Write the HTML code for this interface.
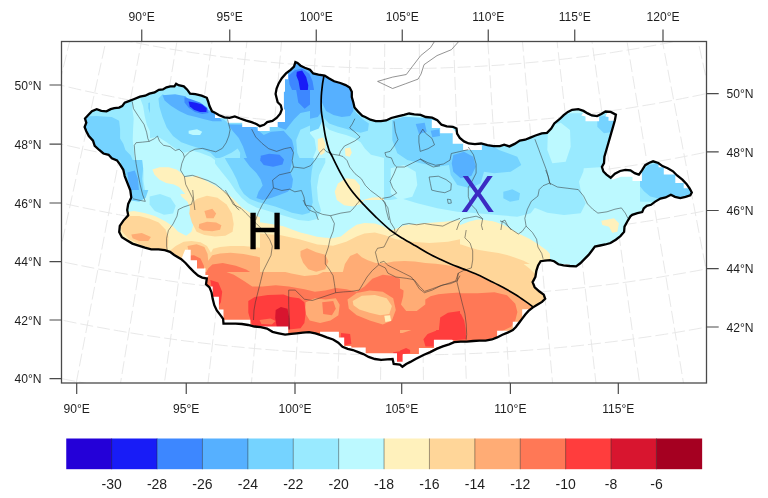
<!DOCTYPE html>
<html lang="en"><head><meta charset="utf-8"><title>Mongolia temperature map</title>
<style>html,body{margin:0;padding:0;background:#fff;}body{width:768px;height:498px;overflow:hidden;}svg{display:block;will-change:transform;}text{font-family:"Liberation Sans", Arial, Helvetica, sans-serif;fill:#1e1e1e;}.tk{font-size:12.1px;}.cb{font-size:14px;}</style></head><body>
<svg width="768" height="498" viewBox="0 0 768 498">
<rect x="0" y="0" width="768" height="498" fill="#ffffff"/>
<defs><clipPath id="fr"><rect x="61.5" y="41.5" width="645" height="341.5"/></clipPath>
<clipPath id="mn"><path d="M124.7 176.1L123.3 169.8L120.1 164.6L117.0 160.4L111.8 158.3L108.6 154.8L103.4 153.5L99.2 150.0L94.7 145.8L93.0 140.6L88.8 136.0L86.3 131.2L84.6 127.0L86.3 122.8L85.0 118.6L87.8 115.5L91.9 111.3L96.7 109.2L101.3 110.9L106.5 111.3L110.7 109.2L114.3 108.2L119.1 107.6L122.2 106.1L124.7 102.6L129.5 100.9L133.7 99.2L140.0 96.7L145.2 95.7L149.4 93.6L154.6 92.5L158.8 89.8L162.9 89.4L166.5 87.3L170.3 86.3L174.4 86.3L176.1 83.8L178.6 85.2L183.8 86.3L187.0 89.4L190.1 93.6L195.3 94.2L201.6 95.7L206.8 97.8L208.3 101.9L209.5 106.1L212.0 111.3L215.0 112.7L219.2 115.2L224.4 117.3L229.6 117.9L234.8 116.4L240.1 118.5L246.3 120.6L251.6 122.1L256.8 124.2L259.9 126.2L264.1 124.8L267.2 122.1L272.4 121.0L276.6 117.9L280.2 113.7L281.8 109.5L280.8 105.3L277.7 102.2L276.6 98.0L275.6 93.9L276.6 88.6L278.7 83.4L281.8 78.2L286.0 73.4L290.6 69.8L294.0 66.7L295.4 62.1L297.5 63.0L300.6 65.7L304.8 67.8L310.0 69.8L313.2 73.4L318.4 74.7L324.7 75.5L328.8 78.2L334.1 81.3L340.3 83.0L345.6 85.1L349.7 87.6L351.8 91.8L351.8 97.0L353.3 102.2L354.5 107.4L358.1 111.6L362.3 115.8L365.2 117.0L370.4 119.7L375.7 121.2L380.9 121.2L386.1 120.5L391.3 118.0L397.6 116.4L403.9 114.9L409.1 113.5L414.3 114.3L420.6 114.9L425.8 117.0L432.1 117.6L437.3 120.1L441.5 124.7L446.7 126.4L452.9 126.8L456.5 128.5L457.1 133.7L459.8 137.9L464.0 141.4L468.6 143.5L474.9 144.2L481.1 143.5L487.4 145.2L493.7 146.2L499.9 146.2L504.2 144.7L509.4 146.4L514.6 143.9L519.8 140.6L525.1 139.7L530.3 137.6L535.5 135.5L541.8 133.4L547.0 132.8L551.2 128.6L554.3 123.4L559.5 119.2L563.7 115.1L567.9 111.9L572.1 109.8L578.3 109.2L583.5 110.9L587.7 113.4L591.9 115.5L597.1 116.1L601.3 114.0L605.5 111.5L610.7 111.9L615.9 114.7L614.9 120.3L612.8 127.6L610.7 134.9L608.6 142.2L606.5 149.5L604.4 156.8L604.0 163.1L601.9 166.9L603.4 171.5L606.5 174.6L610.7 177.7L614.9 173.6L620.1 171.0L625.3 169.8L630.5 170.4L634.7 173.1L638.9 174.6L642.0 170.4L645.2 165.2L649.4 162.7L653.1 161.3L658.3 163.0L662.5 166.1L667.7 168.2L673.0 171.3L677.1 175.5L682.4 179.7L686.5 183.9L689.7 188.5L691.8 192.6L690.3 195.3L685.5 196.8L680.3 198.1L675.0 196.8L670.9 194.7L665.6 197.4L660.4 198.5L655.2 201.6L651.0 204.8L646.8 205.8L643.7 208.5L642.2 212.1L637.4 213.1L632.2 214.8L630.4 216.3L627.3 221.5L624.5 226.7L624.1 231.9L620.4 236.1L615.8 239.7L610.5 243.0L605.3 244.5L600.1 245.5L594.9 246.6L591.8 250.7L588.6 254.9L584.4 259.1L580.3 263.3L576.1 266.4L569.8 266.0L563.5 265.4L558.3 264.3L554.1 261.2L550.0 260.1L544.8 260.6L540.6 261.2L538.1 265.4L536.4 270.6L535.4 276.8L532.6 282.1L534.7 287.3L539.5 291.5L543.7 294.6L545.2 298.8L545.2 298.8L542.0 301.9L536.8 305.1L532.6 307.6L528.5 310.9L525.3 314.5L522.2 318.6L519.1 322.8L515.9 327.0L512.8 330.1L507.6 332.6L502.4 334.7L497.1 337.4L491.9 339.5L485.6 340.6L479.4 340.6L473.1 341.0L466.8 341.6L460.6 341.6L454.3 342.2L449.1 344.3L442.8 346.4L436.6 348.9L430.3 352.1L424.0 354.8L415.6 359.0L410.4 361.9L406.2 364.0L402.4 366.7L399.9 364.6L393.7 364.0L392.6 359.0L387.4 359.4L381.1 359.8L374.9 359.0L368.6 356.9L363.4 354.1L358.2 352.1L352.9 350.0L347.7 348.9L342.5 346.8L338.3 342.7L333.1 339.5L326.8 337.4L321.6 335.4L315.4 333.3L309.1 332.2L302.8 332.6L296.6 333.3L291.3 333.9L285.1 334.7L278.8 333.3L272.5 331.8L267.0 328.6L260.7 327.1L254.4 326.5L248.2 325.0L241.9 324.0L235.6 323.6L229.4 323.6L223.5 323.6L223.1 318.8L220.0 314.6L216.8 310.4L214.3 305.2L212.7 298.9L211.6 292.7L209.5 287.4L206.0 284.3L206.8 278.5L202.2 277.6L198.0 275.5L193.9 271.8L189.7 267.6L185.5 263.0L181.3 259.2L174.2 255.0L170.0 251.9L164.8 250.2L158.5 249.4L151.2 249.4L144.9 247.7L138.6 245.6L132.4 243.6L127.2 240.4L121.9 237.3L119.2 232.1L119.8 225.8L123.4 220.6L128.2 215.3L127.2 210.1L128.2 203.9L131.3 197.6L130.3 190.3Z"/></clipPath>
<clipPath id="c0"><rect x="70" y="56" width="160" height="104"/></clipPath>
<clipPath id="c1"><rect x="230" y="56" width="160" height="104"/></clipPath>
<clipPath id="c2"><rect x="390" y="56" width="160" height="104"/></clipPath>
<clipPath id="c3"><rect x="550" y="56" width="160" height="104"/></clipPath>
<clipPath id="c4"><rect x="70" y="160" width="160" height="104"/></clipPath>
<clipPath id="c5"><rect x="230" y="160" width="160" height="104"/></clipPath>
<clipPath id="c6"><rect x="390" y="160" width="160" height="104"/></clipPath>
<clipPath id="c7"><rect x="550" y="160" width="160" height="104"/></clipPath>
<clipPath id="c8"><rect x="230" y="264" width="160" height="104"/></clipPath>
<clipPath id="c9"><rect x="390" y="264" width="160" height="104"/></clipPath>
<clipPath id="c10"><rect x="150" y="264" width="80" height="80"/></clipPath>
<clipPath id="c11"><rect x="100" y="190" width="200" height="130"/></clipPath>
<clipPath id="c12"><rect x="150" y="90" width="160" height="104"/></clipPath>
<clipPath id="c13"><rect x="260" y="200" width="200" height="130"/></clipPath>
<clipPath id="c14"><rect x="310" y="90" width="150" height="104"/></clipPath>
<clipPath id="c15"><rect x="215" y="158" width="145" height="96"/></clipPath>
<clipPath id="c16"><rect x="200" y="272" width="200" height="108"/></clipPath>
<clipPath id="c17"><rect x="384" y="100" width="256" height="166"/></clipPath>
</defs>
<g clip-path="url(#fr)">
<path d="M54.1 -36.3L-58.3 378.7M86.6 -27.9L-15.4 389.8M119.3 -20.4L27.8 399.8M152.1 -13.7L71.3 408.7M185.1 -7.8L115.0 416.4M218.2 -2.8L158.8 423.1M251.5 1.5L202.8 428.7M284.8 4.8L247.0 433.2M318.3 7.4L291.2 436.5M351.7 9.0L335.5 438.7M385.2 9.9L379.8 439.9M418.8 9.9L424.2 439.9M452.3 9.0L468.5 438.7M485.7 7.4L512.8 436.5M519.2 4.8L557.0 433.2M552.5 1.5L601.2 428.7M585.8 -2.8L645.2 423.1M618.9 -7.8L689.0 416.4M651.9 -13.7L732.7 408.7M684.7 -20.4L776.2 399.8M717.4 -27.9L819.4 389.8M749.9 -36.3L862.3 378.7M-28.2 0.2L-19.9 2.9L-11.6 5.5L-3.2 8.1L5.2 10.6L13.6 13.1L22.0 15.5L30.4 17.9L38.8 20.2L47.3 22.4L55.8 24.6L64.2 26.8L72.7 28.9L81.2 30.9L89.7 32.9L98.3 34.9L106.8 36.8L115.4 38.6L123.9 40.4L132.5 42.1L141.1 43.8L149.7 45.4L158.3 46.9L166.9 48.5L175.6 49.9L184.2 51.3L192.8 52.7L201.5 53.9L210.2 55.2L218.8 56.4L227.5 57.5L236.2 58.6L244.9 59.6L253.6 60.5L262.3 61.5L271.0 62.3L279.7 63.1L288.4 63.8L297.1 64.5L305.8 65.2L314.6 65.7L323.3 66.3L332.0 66.7L340.8 67.1L349.5 67.5L358.3 67.8L367.0 68.1L375.8 68.3L384.5 68.4L393.3 68.5L402.0 68.5L410.7 68.5L419.5 68.4L428.2 68.3L437.0 68.1L445.7 67.8L454.5 67.5L463.2 67.1L472.0 66.7L480.7 66.3L489.4 65.7L498.2 65.2L506.9 64.5L515.6 63.8L524.3 63.1L533.0 62.3L541.7 61.5L550.4 60.5L559.1 59.6L567.8 58.6L576.5 57.5L585.2 56.4L593.8 55.2L602.5 53.9L611.2 52.7L619.8 51.3L628.4 49.9L637.1 48.5L645.7 46.9L654.3 45.4L662.9 43.8L671.5 42.1L680.1 40.4L688.6 38.6L697.2 36.8L705.7 34.9L714.3 32.9L722.8 30.9L731.3 28.9L739.8 26.8L748.2 24.6L756.7 22.4L765.2 20.2L773.6 17.9L782.0 15.5L790.4 13.1L798.8 10.6L807.2 8.1L815.6 5.5L823.9 2.9L832.2 0.2M-46.0 54.8L-37.4 57.6L-28.7 60.4L-20.0 63.1L-11.3 65.7L-2.5 68.3L6.2 70.8L15.0 73.3L23.8 75.7L32.6 78.0L41.4 80.3L50.2 82.6L59.1 84.8L67.9 86.9L76.8 89.0L85.7 91.0L94.6 92.9L103.5 94.9L112.4 96.7L121.4 98.5L130.3 100.2L139.3 101.9L148.2 103.6L157.2 105.1L166.2 106.6L175.2 108.1L184.2 109.5L193.2 110.8L202.2 112.1L211.2 113.4L220.3 114.5L229.3 115.7L238.4 116.7L247.4 117.7L256.5 118.7L265.5 119.5L274.6 120.4L283.7 121.2L292.8 121.9L301.9 122.5L311.0 123.1L320.0 123.7L329.1 124.2L338.2 124.6L347.3 125.0L356.5 125.3L365.6 125.5L374.7 125.7L383.8 125.9L392.9 126.0L402.0 126.0L411.1 126.0L420.2 125.9L429.3 125.7L438.4 125.5L447.5 125.3L456.7 125.0L465.8 124.6L474.9 124.2L484.0 123.7L493.0 123.1L502.1 122.5L511.2 121.9L520.3 121.2L529.4 120.4L538.5 119.5L547.5 118.7L556.6 117.7L565.6 116.7L574.7 115.7L583.7 114.5L592.8 113.4L601.8 112.1L610.8 110.8L619.8 109.5L628.8 108.1L637.8 106.6L646.8 105.1L655.8 103.6L664.7 101.9L673.7 100.2L682.6 98.5L691.6 96.7L700.5 94.9L709.4 92.9L718.3 91.0L727.2 89.0L736.1 86.9L744.9 84.8L753.8 82.6L762.6 80.3L771.4 78.0L780.2 75.7L789.0 73.3L797.8 70.8L806.5 68.3L815.3 65.7L824.0 63.1L832.7 60.4L841.4 57.6L850.0 54.8M-63.8 109.3L-54.8 112.2L-45.7 115.1L-36.7 117.9L-27.6 120.6L-18.5 123.3L-9.4 125.9L-0.3 128.5L8.8 131.0L18.0 133.4L27.1 135.8L36.3 138.1L45.5 140.4L54.7 142.6L63.9 144.8L73.2 146.9L82.4 148.9L91.7 150.9L101.0 152.8L110.2 154.7L119.5 156.5L128.8 158.3L138.2 160.0L147.5 161.6L156.8 163.2L166.2 164.7L175.5 166.1L184.9 167.5L194.3 168.9L203.7 170.2L213.1 171.4L222.5 172.5L231.9 173.6L241.3 174.7L250.7 175.7L260.1 176.6L269.6 177.5L279.0 178.3L288.4 179.0L297.9 179.7L307.3 180.3L316.8 180.9L326.3 181.4L335.7 181.8L345.2 182.2L354.6 182.6L364.1 182.8L373.6 183.0L383.1 183.2L392.5 183.3L402.0 183.3L411.5 183.3L420.9 183.2L430.4 183.0L439.9 182.8L449.4 182.6L458.8 182.2L468.3 181.8L477.7 181.4L487.2 180.9L496.7 180.3L506.1 179.7L515.6 179.0L525.0 178.3L534.4 177.5L543.9 176.6L553.3 175.7L562.7 174.7L572.1 173.6L581.5 172.5L590.9 171.4L600.3 170.2L609.7 168.9L619.1 167.5L628.5 166.1L637.8 164.7L647.2 163.2L656.5 161.6L665.8 160.0L675.2 158.3L684.5 156.5L693.8 154.7L703.0 152.8L712.3 150.9L721.6 148.9L730.8 146.9L740.1 144.8L749.3 142.6L758.5 140.4L767.7 138.1L776.9 135.8L786.0 133.4L795.2 131.0L804.3 128.5L813.4 125.9L822.5 123.3L831.6 120.6L840.7 117.9L849.7 115.1L858.8 112.2L867.8 109.3M-81.5 163.8L-72.2 166.8L-62.8 169.8L-53.4 172.7L-44.0 175.5L-34.6 178.3L-25.1 181.0L-15.7 183.7L-6.2 186.3L3.3 188.8L12.8 191.3L22.4 193.7L31.9 196.1L41.5 198.4L51.0 200.6L60.6 202.8L70.2 204.9L79.9 207.0L89.5 209.0L99.1 210.9L108.8 212.8L118.4 214.6L128.1 216.4L137.8 218.1L147.5 219.7L157.2 221.3L166.9 222.8L176.6 224.2L186.4 225.6L196.1 227.0L205.9 228.2L215.6 229.4L225.4 230.6L235.2 231.7L244.9 232.7L254.7 233.6L264.5 234.5L274.3 235.4L284.1 236.1L293.9 236.9L303.7 237.5L313.6 238.1L323.4 238.6L333.2 239.1L343.0 239.5L352.8 239.8L362.7 240.1L372.5 240.3L382.3 240.5L392.2 240.6L402.0 240.6L411.8 240.6L421.7 240.5L431.5 240.3L441.3 240.1L451.2 239.8L461.0 239.5L470.8 239.1L480.6 238.6L490.4 238.1L500.3 237.5L510.1 236.9L519.9 236.1L529.7 235.4L539.5 234.5L549.3 233.6L559.1 232.7L568.8 231.7L578.6 230.6L588.4 229.4L598.1 228.2L607.9 227.0L617.6 225.6L627.4 224.2L637.1 222.8L646.8 221.3L656.5 219.7L666.2 218.1L675.9 216.4L685.6 214.6L695.2 212.8L704.9 210.9L714.5 209.0L724.1 207.0L733.8 204.9L743.4 202.8L753.0 200.6L762.5 198.4L772.1 196.1L781.6 193.7L791.2 191.3L800.7 188.8L810.2 186.3L819.7 183.7L829.1 181.0L838.6 178.3L848.0 175.5L857.4 172.7L866.8 169.8L876.2 166.8L885.5 163.8M-99.3 218.2L-89.6 221.3L-79.8 224.4L-70.1 227.4L-60.3 230.3L-50.6 233.2L-40.8 236.0L-31.0 238.8L-21.1 241.5L-11.3 244.1L-1.4 246.7L8.5 249.2L18.3 251.7L28.3 254.0L38.2 256.4L48.1 258.6L58.1 260.8L68.0 263.0L78.0 265.0L88.0 267.0L98.0 269.0L108.0 270.9L118.1 272.7L128.1 274.4L138.2 276.1L148.2 277.8L158.3 279.3L168.4 280.8L178.5 282.3L188.6 283.7L198.7 285.0L208.8 286.2L218.9 287.4L229.0 288.5L239.2 289.6L249.3 290.6L259.5 291.5L269.6 292.4L279.8 293.2L290.0 293.9L300.1 294.6L310.3 295.2L320.5 295.7L330.7 296.2L340.9 296.6L351.0 297.0L361.2 297.3L371.4 297.5L381.6 297.7L391.8 297.8L402.0 297.8L412.2 297.8L422.4 297.7L432.6 297.5L442.8 297.3L453.0 297.0L463.1 296.6L473.3 296.2L483.5 295.7L493.7 295.2L503.9 294.6L514.0 293.9L524.2 293.2L534.4 292.4L544.5 291.5L554.7 290.6L564.8 289.6L575.0 288.5L585.1 287.4L595.2 286.2L605.3 285.0L615.4 283.7L625.5 282.3L635.6 280.8L645.7 279.3L655.8 277.8L665.8 276.1L675.9 274.4L685.9 272.7L696.0 270.9L706.0 269.0L716.0 267.0L726.0 265.0L736.0 263.0L745.9 260.8L755.9 258.6L765.8 256.4L775.7 254.0L785.7 251.7L795.5 249.2L805.4 246.7L815.3 244.1L825.1 241.5L835.0 238.8L844.8 236.0L854.6 233.2L864.3 230.3L874.1 227.4L883.8 224.4L893.6 221.3L903.3 218.2M-117.0 272.6L-106.9 275.8L-96.9 279.0L-86.8 282.1L-76.7 285.1L-66.6 288.1L-56.4 291.0L-46.3 293.9L-36.1 296.7L-25.9 299.4L-15.7 302.1L-5.5 304.7L4.8 307.2L15.0 309.7L25.3 312.1L35.6 314.4L45.9 316.7L56.2 318.9L66.6 321.1L76.9 323.2L87.3 325.2L97.6 327.1L108.0 329.0L118.4 330.8L128.8 332.6L139.3 334.3L149.7 335.9L160.1 337.4L170.6 338.9L181.0 340.4L191.5 341.7L202.0 343.0L212.4 344.2L222.9 345.4L233.4 346.5L243.9 347.5L254.4 348.5L265.0 349.4L275.5 350.2L286.0 351.0L296.5 351.7L307.1 352.3L317.6 352.9L328.1 353.4L338.7 353.8L349.2 354.2L359.8 354.5L370.3 354.7L380.9 354.9L391.4 355.0L402.0 355.0L412.6 355.0L423.1 354.9L433.7 354.7L444.2 354.5L454.8 354.2L465.3 353.8L475.9 353.4L486.4 352.9L496.9 352.3L507.5 351.7L518.0 351.0L528.5 350.2L539.0 349.4L549.6 348.5L560.1 347.5L570.6 346.5L581.1 345.4L591.6 344.2L602.0 343.0L612.5 341.7L623.0 340.4L633.4 338.9L643.9 337.4L654.3 335.9L664.7 334.3L675.2 332.6L685.6 330.8L696.0 329.0L706.4 327.1L716.7 325.2L727.1 323.2L737.4 321.1L747.8 318.9L758.1 316.7L768.4 314.4L778.7 312.1L789.0 309.7L799.2 307.2L809.5 304.7L819.7 302.1L829.9 299.4L840.1 296.7L850.3 293.9L860.4 291.0L870.6 288.1L880.7 285.1L890.8 282.1L900.9 279.0L910.9 275.8L921.0 272.6M-134.8 327.1L-124.4 330.5L-114.0 333.8L-103.6 337.0L-93.1 340.1L-82.6 343.2L-72.1 346.3L-61.6 349.2L-51.1 352.1L-40.6 354.9L-30.0 357.7L-19.4 360.4L-8.8 363.0L1.8 365.5L12.4 368.0L23.1 370.4L33.7 372.8L44.4 375.1L55.1 377.3L65.8 379.5L76.5 381.5L87.2 383.6L98.0 385.5L108.7 387.4L119.5 389.2L130.2 391.0L141.0 392.6L151.8 394.2L162.6 395.8L173.4 397.3L184.3 398.7L195.1 400.0L205.9 401.3L216.8 402.5L227.7 403.6L238.5 404.7L249.4 405.7L260.3 406.6L271.1 407.5L282.0 408.2L292.9 409.0L303.8 409.6L314.7 410.2L325.6 410.7L336.5 411.2L347.4 411.5L358.3 411.8L369.3 412.1L380.2 412.3L391.1 412.4L402.0 412.4L412.9 412.4L423.8 412.3L434.7 412.1L445.7 411.8L456.6 411.5L467.5 411.2L478.4 410.7L489.3 410.2L500.2 409.6L511.1 409.0L522.0 408.2L532.9 407.5L543.7 406.6L554.6 405.7L565.5 404.7L576.3 403.6L587.2 402.5L598.1 401.3L608.9 400.0L619.7 398.7L630.6 397.3L641.4 395.8L652.2 394.2L663.0 392.6L673.8 391.0L684.5 389.2L695.3 387.4L706.0 385.5L716.8 383.6L727.5 381.5L738.2 379.5L748.9 377.3L759.6 375.1L770.3 372.8L780.9 370.4L791.6 368.0L802.2 365.5L812.8 363.0L823.4 360.4L834.0 357.7L844.6 354.9L855.1 352.1L865.6 349.2L876.1 346.3L886.6 343.2L897.1 340.1L907.6 337.0L918.0 333.8L928.4 330.5L938.8 327.1M-152.6 381.7L-141.8 385.2L-131.1 388.6L-120.3 391.9L-109.5 395.2L-98.7 398.3L-87.9 401.5L-77.0 404.5L-66.1 407.5L-55.2 410.4L-44.3 413.3L-33.4 416.0L-22.4 418.7L-11.5 421.4L-0.5 424.0L10.5 426.5L21.5 428.9L32.5 431.3L43.6 433.5L54.6 435.8L65.7 437.9L76.8 440.0L87.9 442.0L99.0 444.0L110.1 445.8L121.2 447.6L132.4 449.4L143.5 451.0L154.7 452.6L165.9 454.2L177.1 455.6L188.3 457.0L199.5 458.3L210.7 459.5L221.9 460.7L233.1 461.8L244.3 462.8L255.6 463.8L266.8 464.7L278.1 465.5L289.3 466.2L300.6 466.9L311.8 467.5L323.1 468.1L334.4 468.5L345.6 468.9L356.9 469.2L368.2 469.5L379.4 469.7L390.7 469.8L402.0 469.8L413.3 469.8L424.6 469.7L435.8 469.5L447.1 469.2L458.4 468.9L469.6 468.5L480.9 468.1L492.2 467.5L503.4 466.9L514.7 466.2L525.9 465.5L537.2 464.7L548.4 463.8L559.7 462.8L570.9 461.8L582.1 460.7L593.3 459.5L604.5 458.3L615.7 457.0L626.9 455.6L638.1 454.2L649.3 452.6L660.5 451.0L671.6 449.4L682.8 447.6L693.9 445.8L705.0 444.0L716.1 442.0L727.2 440.0L738.3 437.9L749.4 435.8L760.4 433.5L771.5 431.3L782.5 428.9L793.5 426.5L804.5 424.0L815.5 421.4L826.4 418.7L837.4 416.0L848.3 413.3L859.2 410.4L870.1 407.5L881.0 404.5L891.9 401.5L902.7 398.3L913.5 395.2L924.3 391.9L935.1 388.6L945.8 385.2L956.6 381.7" fill="none" stroke="#e5e5e5" stroke-width="0.9" stroke-dasharray="13 4"/>
<g clip-path="url(#mn)">
<g clip-path="url(#c0)">
<rect x="69" y="55" width="162" height="106" fill="#99EAFF"/>
<path d="M132.7 100.9L140.0 97.8L143.1 106.1L144.8 116.6L146.9 124.9L150.4 132.2L155.6 134.9L159.8 136.4L163.0 141.6L168.2 144.8L174.4 145.8L178.6 150.0L182.8 154.2L185.9 160.0L134.8 160.0L133.7 150.0L132.7 139.5L133.1 129.1L133.7 118.7L132.2 108.2ZM183.8 129.1L190.1 128.0L197.4 131.2L201.2 134.9L197.4 137.0L191.1 134.9L185.9 132.9Z" fill="#BCF9FF"/>
<path d="M82.5 116.6L96.1 116.1L111.8 117.0L119.1 120.7L120.1 129.1L120.1 138.5L123.3 143.7L125.4 150.0L130.6 155.2L132.7 160.0L109.7 160.0L82.5 139.5ZM148.3 103.0L154.6 100.9L159.8 104.0L161.9 110.3L159.8 116.6L154.6 118.7L150.4 114.5L148.3 108.2ZM159.8 93.6L220.4 93.6L230.0 114.5L230.0 143.7L223.5 147.9L216.2 147.9L214.1 142.7L216.2 136.4L214.1 129.5L203.7 127.4L195.3 126.0L187.0 123.9L180.7 126.0L174.4 124.9L170.3 118.7L165.0 110.3L161.5 101.9Z" fill="#75D3FF"/>
<path d="M161.9 94.6L168.2 93.6L178.6 94.6L187.0 97.3L207.9 98.8L209.9 112.4L216.2 116.6L224.6 120.7L230.0 122.8L230.0 129.5L220.4 127.0L212.0 123.2L203.7 120.3L195.3 118.7L187.0 116.6L178.6 113.4L172.3 110.3L168.2 106.1L164.0 100.9Z" fill="#56B0FF"/>
<path d="M168.2 95.7L178.6 95.3L187.0 98.4L206.8 100.3L208.3 108.2L208.9 114.1L203.7 117.0L195.3 115.7L187.0 112.4L178.6 108.2L172.3 104.0L168.6 99.9Z" fill="#3D87FF"/>
<path d="M185.5 100.5L190.1 99.4L195.3 101.9L203.7 103.6L207.0 106.7L207.4 111.6L202.6 112.8L195.3 110.9L190.1 107.4L186.3 104.0Z" fill="#181CF7"/>
</g>
<g clip-path="url(#c1)">
<rect x="229" y="55" width="162" height="106" fill="#99EAFF"/>
<path d="M300.0 127.0L307.3 122.8L315.6 120.7L324.0 122.8L332.3 126.0L338.6 129.1L343.8 127.0L349.1 124.9L353.2 129.1L355.3 135.4L363.7 136.4L376.2 135.4L390.0 134.3L390.0 160.0L298.9 160.0L301.0 152.1L302.1 143.7L298.9 135.4Z" fill="#BCF9FF"/>
<path d="M317.3 137.4L321.9 136.4L325.0 141.6L325.7 148.9L323.0 154.2L318.8 153.1L316.7 145.8ZM344.5 147.9L348.0 145.8L351.1 148.9L350.7 153.7L347.0 155.2L344.5 152.1Z" fill="#FFF1BC"/>
<path d="M230.0 116.6L276.0 116.6L274.9 81.1L296.8 60.2L355.3 87.3L355.3 110.3L360.5 116.6L355.3 120.7L347.0 119.7L338.6 118.7L330.3 116.6L325.0 111.3L319.8 113.4L313.6 116.6L307.3 118.7L302.1 120.7L296.8 124.9L294.8 131.2L296.8 139.5L300.0 147.9L298.9 154.2L292.7 160.0L230.0 160.0ZM352.2 121.8L359.5 118.7L367.9 122.8L368.9 129.1L363.7 133.3L356.4 132.2L352.2 128.0Z" fill="#75D3FF"/>
<path d="M274.9 81.1L296.8 60.2L351.1 87.3L352.2 100.9L347.0 103.6L343.8 108.6L334.4 108.6L328.2 105.7L325.0 98.8L321.9 95.7L318.8 100.9L314.6 107.2L310.4 110.7L304.2 112.8L296.8 112.0L290.6 115.5L285.4 120.7L280.1 124.9L274.9 124.9ZM230.0 124.9L242.5 126.0L255.1 127.0L258.2 133.3L265.5 129.1L278.0 128.0L282.2 135.4L283.3 143.7L286.4 147.9L290.6 152.1L292.7 160.0L230.0 160.0Z" fill="#56B0FF"/>
<path d="M288.5 75.8L294.8 70.2L302.1 68.5L309.4 73.8L312.5 81.1L314.0 89.4L312.7 97.8L309.4 104.4L303.1 106.5L297.9 104.4L295.8 97.8L292.7 91.5L289.5 84.2ZM266.6 132.2L272.8 129.1L277.0 133.3L280.1 139.5L278.0 143.7L272.8 142.7L268.6 138.5ZM257.2 150.0L267.6 147.9L278.0 148.9L286.4 152.1L288.5 160.0L257.2 160.0Z" fill="#3D87FF"/>
<path d="M296.8 71.7L302.1 70.6L306.2 76.9L308.3 85.2L307.7 91.5L303.1 92.8L300.0 89.4L298.5 81.1L296.4 75.8Z" fill="#181CF7"/>
</g>
<g clip-path="url(#c2)">
<rect x="389" y="55" width="162" height="106" fill="#99EAFF"/>
<path d="M394.2 119.7L438.0 119.7L452.7 133.3L463.1 143.7L481.9 147.9L507.0 147.9L523.7 143.7L536.2 139.5L536.2 160.0L523.7 160.0L515.3 156.2L507.0 154.2L498.6 155.2L490.3 157.3L481.9 154.2L477.7 160.0L402.5 160.0L398.4 152.1L396.3 143.7L394.2 135.4Z" fill="#75D3FF"/>
<path d="M415.1 123.9L421.3 122.4L424.5 127.0L421.3 131.6L416.1 130.1ZM431.8 131.6L439.1 130.8L441.2 134.9L437.0 137.4L432.4 135.8ZM450.6 154.2L458.9 151.0L469.4 150.0L477.7 154.2L479.8 160.0L450.6 160.0Z" fill="#56B0FF"/>
</g>
<g clip-path="url(#c3)">
<rect x="549" y="55" width="162" height="106" fill="#99EAFF"/>
<path d="M557.3 118.7L564.6 115.5L571.9 118.7L574.0 127.0L573.0 139.5L569.8 150.0L564.6 160.0L550.0 160.0L550.0 147.9L553.1 135.4L554.2 124.9Z" fill="#BCF9FF"/>
<path d="M596.0 122.8L602.2 120.7L606.4 115.5L611.6 116.6L610.6 124.9L608.5 132.2L603.3 131.2L599.1 128.0Z" fill="#75D3FF"/>
</g>
<g clip-path="url(#c4)">
<rect x="69" y="159" width="162" height="106" fill="#99EAFF"/>
<path d="M142.1 160.0L205.8 160.0L212.0 168.4L220.4 178.8L230.0 185.1L230.0 264.0L118.0 264.0L118.0 207.0L130.6 209.1L141.0 208.0L147.3 204.9L148.3 199.7L145.2 191.3L143.5 180.9L143.5 170.4Z" fill="#BCF9FF"/>
<path d="M152.3 169.4L159.6 167.3L168.6 167.3L176.5 169.4L181.7 173.4L184.9 177.1L192.2 176.5L197.4 175.9L205.4 180.5L213.1 184.4L221.0 187.6L230.0 193.4L230.0 264.0L118.0 264.0L118.0 207.6L127.4 207.0L130.6 209.1L141.0 212.2L151.5 215.3L161.9 220.6L167.1 224.7L168.2 231.0L174.4 235.2L180.7 236.2L187.0 231.0L189.5 220.6L191.1 214.7L192.2 209.7L193.2 205.3L190.9 202.0L187.0 196.8L183.0 191.5L179.0 186.9L174.0 184.4L166.1 183.0L159.6 179.8L154.4 174.6Z" fill="#FFF1BC"/>
<path d="M123.3 222.7L130.6 218.5L141.0 217.4L151.5 220.6L159.8 224.7L165.0 231.0L167.1 239.4L168.2 247.7L161.9 249.8L118.0 243.5L118.0 226.8ZM195.3 197.6L205.8 195.5L216.2 198.6L224.6 205.9L230.0 214.3L230.0 235.2L220.4 233.5L212.0 232.5L203.7 231.4L197.4 227.2L195.3 218.5L196.4 208.0ZM173.4 248.8L182.8 245.6L195.3 243.5L207.9 242.5L220.4 240.4L230.0 239.4L230.0 264.0L170.3 264.0L168.2 251.9Z" fill="#FFD699"/>
<path d="M132.7 236.2L141.0 236.9L146.2 240.4L141.0 242.5L133.7 240.4ZM203.7 199.7L212.0 198.6L217.3 204.9L216.2 213.3L212.0 216.4L205.8 214.3L202.6 207.0ZM198.5 222.7L207.9 221.6L216.2 222.7L222.5 224.7L221.4 230.0L214.1 231.4L205.8 231.0L199.5 228.5ZM182.8 251.9L195.3 248.8L207.9 247.7L216.2 251.9L220.4 258.2L222.5 264.0L180.7 264.0Z" fill="#FFAC75"/>
<path d="M185.9 254.4L193.2 253.6L196.4 258.2L195.3 264.0L185.9 264.0Z" fill="#FF7856"/>
<path d="M120.1 160.0L142.1 160.0L143.1 168.4L142.1 178.8L143.1 189.2L146.2 198.6L141.0 201.8L134.8 200.7L131.6 195.5L128.5 185.1L125.4 172.5L121.2 164.2Z" fill="#75D3FF"/>
<path d="M127.4 172.5L134.8 170.4L137.9 178.8L138.9 189.2L137.9 196.5L133.7 197.6L130.6 189.2L128.5 180.9Z" fill="#56B0FF"/>
<path d="M153.6 195.5L161.9 193.4L170.3 196.5L174.4 203.9L172.3 212.2L164.0 214.3L157.7 210.1L153.6 202.8Z" fill="#99EAFF"/>
</g>
<g clip-path="url(#c5)">
<rect x="229" y="159" width="162" height="106" fill="#99EAFF"/>
<path d="M230.0 185.1L238.4 193.4L246.7 201.8L257.2 207.0L267.6 211.2L278.0 214.7L290.6 218.5L303.1 220.6L313.6 217.4L315.6 210.1L313.6 201.8L312.5 191.3L313.6 180.9L317.7 172.5L324.0 166.3L330.3 160.0L390.0 160.0L390.0 264.0L230.0 264.0Z" fill="#BCF9FF"/>
<path d="M230.0 198.6L240.4 208.0L250.9 215.3L261.3 219.5L271.8 222.7L282.2 225.8L292.7 228.9L303.1 232.0L313.6 234.1L324.0 236.2L334.4 237.7L342.8 235.2L351.1 228.9L359.5 223.7L367.9 221.6L376.2 222.7L384.6 226.8L390.0 230.0L390.0 264.0L230.0 264.0ZM332.3 191.3L336.5 185.1L342.8 181.9L349.1 185.1L355.3 193.4L358.5 200.7L356.4 205.9L349.1 207.0L340.7 203.9L334.4 199.7ZM360.5 200.7L372.0 197.6L380.4 197.2L385.6 199.7L382.5 203.9L374.1 204.9L365.8 206.4L361.6 204.9Z" fill="#FFF1BC"/>
<path d="M230.0 224.7L240.4 225.8L250.9 228.9L261.3 232.0L271.8 234.1L282.2 236.2L292.7 238.9L303.1 241.4L313.6 243.5L324.0 245.6L334.4 244.6L342.8 242.5L351.1 240.4L359.5 239.4L367.9 238.3L376.2 237.7L384.6 236.2L390.0 235.2L390.0 264.0L230.0 264.0Z" fill="#FFD699"/>
<path d="M230.0 251.9L242.5 252.9L255.1 254.0L267.6 254.0L280.1 251.9L292.7 250.2L301.0 249.8L313.6 251.9L324.0 255.0L330.3 258.2L338.6 259.2L347.0 257.1L355.3 255.0L363.7 254.0L372.0 255.0L380.4 257.1L390.0 258.2L390.0 264.0L230.0 264.0Z" fill="#FFAC75"/>
<path d="M301.0 252.9L309.4 251.9L317.7 254.0L324.0 257.1L325.0 264.0L301.0 264.0Z" fill="#FF7856"/>
<path d="M230.0 160.0L321.9 160.0L319.8 168.4L313.6 172.5L310.4 180.9L309.4 191.3L312.5 201.8L311.5 212.2L305.2 216.8L292.7 214.7L282.2 212.2L271.8 208.4L261.3 204.3L250.9 199.7L242.5 191.3L236.3 180.9L230.0 172.5Z" fill="#75D3FF"/>
<path d="M230.0 160.0L290.6 160.0L288.9 168.4L292.7 176.7L298.9 190.1L292.7 194.2L284.3 192.6L278.0 190.9L271.8 194.7L265.5 198.8L259.2 198.0L255.1 193.0L259.2 185.1L259.2 180.9L250.9 174.6L240.4 168.4L230.0 164.6Z" fill="#56B0FF"/>
<path d="M260.3 160.0L282.2 160.0L281.2 163.8L274.9 165.8L266.6 165.2L261.3 162.5Z" fill="#3D87FF"/>
</g>
<g clip-path="url(#c6)">
<rect x="389" y="159" width="162" height="106" fill="#99EAFF"/>
<path d="M390.0 191.3L398.4 196.5L410.9 200.7L423.4 203.9L436.0 207.0L448.5 209.1L461.0 211.2L473.6 212.2L486.1 212.2L498.6 211.2L511.1 210.1L523.7 207.0L532.0 204.9L540.4 207.0L550.0 212.2L552.1 264.0L390.0 264.0ZM390.0 172.5L398.4 174.6L405.7 180.9L406.7 189.2L400.4 194.5L390.0 195.5Z" fill="#BCF9FF"/>
<path d="M390.0 220.6L396.3 223.7L402.5 224.7L415.1 223.7L427.6 222.7L440.1 224.7L452.7 226.8L461.0 224.7L469.4 221.6L477.7 219.5L486.1 219.5L494.4 221.6L502.8 224.7L511.1 228.9L517.6 233.1L529.9 239.1L538.5 244.6L546.9 250.6L552.1 256.1L552.1 264.0L390.0 264.0Z" fill="#FFF1BC"/>
<path d="M390.0 227.9L398.4 232.0L406.7 237.3L415.1 241.9L423.4 245.2L431.8 246.7L442.2 244.6L452.7 243.5L461.0 244.6L469.4 247.3L477.7 249.8L488.2 251.5L498.6 252.9L507.0 255.0L515.3 257.7L523.7 260.7L529.9 264.0L390.0 264.0Z" fill="#FFD699"/>
<path d="M390.0 235.2L398.4 239.4L406.7 244.6L415.1 249.8L423.4 255.0L431.8 259.2L440.1 262.3L442.2 264.0L390.0 264.0Z" fill="#FFAC75"/>
<path d="M450.6 160.0L481.9 160.0L484.0 168.4L481.9 178.8L477.7 187.1L469.4 191.3L461.0 190.3L454.8 185.1L451.6 176.7L450.6 168.4ZM503.8 192.4L511.1 190.3L518.5 192.4L520.5 197.6L515.3 200.7L508.0 200.7L503.8 197.6ZM421.3 160.0L450.6 160.0L450.6 166.3L442.2 168.4L431.8 167.3L423.4 164.2Z" fill="#75D3FF"/>
<path d="M452.7 169.4L461.0 167.3L465.6 172.5L465.2 180.9L460.0 183.4L454.8 179.8Z" fill="#56B0FF"/>
</g>
<g clip-path="url(#c7)">
<rect x="549" y="159" width="162" height="106" fill="#99EAFF"/>
<path d="M581.3 160.0L605.4 160.0L612.7 178.8L622.1 175.0L623.1 183.0L624.8 193.4L630.4 200.7L641.9 201.8L710.0 201.8L710.0 264.0L550.0 264.0L550.0 213.3L577.2 212.2L583.4 207.0L583.8 191.3L581.3 185.1Z" fill="#BCF9FF"/>
<path d="M601.2 220.6L608.5 218.5L617.9 218.5L620.0 224.7L617.9 232.0L613.7 234.1L610.6 228.9L606.4 224.7L602.2 223.7Z" fill="#FFF1BC"/>
<path d="M637.7 180.9L641.9 172.5L648.2 165.2L658.6 163.1L692.0 163.1L692.0 196.5L667.0 197.6L658.6 198.6L650.3 196.5L644.0 191.3L639.8 186.1Z" fill="#75D3FF"/>
</g>
<g clip-path="url(#c8)">
<rect x="229" y="263" width="162" height="106" fill="#99EAFF"/>
<path d="M230.0 264.0L390.0 264.0L390.0 368.0L230.0 368.0Z" fill="#FFD699"/>
<path d="M230.0 264.0L265.5 264.0L267.6 270.3L278.0 276.5L292.7 279.7L305.2 278.6L317.7 274.4L325.0 268.2L326.1 264.0L390.0 264.0L390.0 368.0L230.0 368.0Z" fill="#FFAC75"/>
<path d="M230.0 269.2L238.4 271.3L246.7 276.5L255.1 281.8L263.4 284.9L271.8 284.9L280.1 285.9L288.5 288.0L298.9 290.1L309.4 291.1L319.8 289.1L328.2 285.9L334.4 283.8L340.7 287.0L347.0 282.8L355.3 278.6L363.7 274.4L372.0 270.3L380.4 267.1L390.0 266.1L390.0 368.0L230.0 368.0Z" fill="#FF7856"/>
<path d="M248.8 301.6L257.2 297.4L267.6 296.4L278.0 296.4L288.5 298.5L298.9 301.6L304.2 306.8L305.2 314.1L303.1 321.4L301.0 326.7L294.8 328.7L250.9 326.7L249.8 318.3L247.8 309.9ZM339.6 332.4L346.8 332.4L351.4 337.0L351.4 346.1L344.2 346.1L344.2 337.6L339.6 337.6Z" fill="#FF3D3D"/>
<path d="M276.0 308.9L282.2 306.8L286.0 311.0L287.4 318.3L288.5 326.7L286.8 329.2L279.1 328.3L277.0 320.4L275.5 314.1Z" fill="#D8152F"/>
<path d="M307.3 302.6L313.6 299.5L321.9 298.5L330.3 297.4L338.6 299.5L340.7 305.8L338.6 314.1L334.4 320.4L326.1 323.5L317.7 322.5L310.4 319.3L306.2 312.0Z" fill="#FFAC75"/>
<path d="M352.2 300.5L359.5 297.4L369.9 297.4L380.4 300.5L385.6 305.8L384.6 312.0L376.2 314.1L367.9 313.1L359.5 311.0L353.2 306.8Z" fill="#FFD699"/>
<path d="M321.9 302.6L332.3 301.2L334.4 308.9L332.3 315.2L325.0 316.2L321.5 309.9Z" fill="#FF7856"/>
</g>
<g clip-path="url(#c9)">
<rect x="389" y="263" width="162" height="106" fill="#FFD699"/>
<path d="M523.7 264.0L552.1 264.0L552.1 276.9L536.2 274.9L529.5 268.6Z" fill="#FFF1BC"/>
<path d="M390.0 264.0L452.7 264.0L465.2 270.3L477.7 275.5L490.3 281.8L502.8 288.0L515.3 295.3L525.8 302.6L534.1 307.9L523.7 318.3L507.0 332.9L473.6 343.4L390.0 368.0Z" fill="#FFAC75"/>
<path d="M390.0 284.9L398.4 287.0L404.6 293.2L402.5 301.6L408.8 307.9L417.2 308.9L425.5 305.8L428.6 299.5L427.6 293.2L442.2 291.1L458.9 293.2L477.7 293.2L494.4 292.2L507.0 295.3L515.3 303.7L517.4 312.0L515.3 320.4L511.1 326.7L502.8 330.8L496.5 337.1L473.6 343.4L390.0 368.0Z" fill="#FF7856"/>
<path d="M390.0 313.1L398.4 312.0L410.9 312.0L416.1 318.3L415.1 328.7L402.5 332.9L390.0 332.9Z" fill="#FFAC75"/>
<path d="M446.4 313.1L454.8 311.0L461.0 314.1L464.2 320.4L465.6 328.7L466.2 339.2L452.7 340.2L436.0 341.3L434.9 346.5L425.5 346.5L423.4 339.2L427.6 334.0L436.0 330.8L440.1 323.5L442.2 317.3ZM397.0 353.3L398.4 351.3L406.1 348.1L410.1 350.0L410.1 353.3L403.0 353.9L403.0 361.7L397.0 361.7Z" fill="#FF3D3D"/>
</g>
<g clip-path="url(#c10)">
<rect x="149" y="263" width="82" height="82" fill="#99EAFF"/>
<path d="M150.0 240.0L310.0 240.0L310.0 344.0L150.0 344.0Z" fill="#FFD699"/>
<path d="M181.3 248.4L191.8 246.3L202.2 249.4L212.7 252.5L223.1 254.6L233.6 256.7L244.0 260.9L254.4 267.1L267.0 271.3L279.5 274.5L292.0 276.5L304.6 278.6L310.0 279.7L310.0 344.0L181.3 344.0Z" fill="#FFAC75"/>
<path d="M187.6 256.7L193.9 254.6L200.1 260.9L205.4 269.2L210.6 276.5L218.9 273.4L222.1 267.1L233.6 266.1L241.9 271.3L250.3 279.7L258.6 285.9L267.0 290.1L279.5 292.2L292.0 291.2L304.6 293.3L310.0 296.4L310.0 327.7L252.3 325.6L248.2 319.4L241.9 320.4L233.6 319.4L227.3 320.4L221.0 313.1L217.9 304.7L212.7 292.2L208.5 281.8L200.1 273.4L191.8 265.1Z" fill="#FF7856"/>
<path d="M210.6 278.6L216.8 281.8L221.0 289.1L220.0 296.4L216.8 300.6L213.7 294.3L211.6 287.0ZM248.2 302.7L254.4 298.5L267.0 296.4L279.5 295.3L292.0 296.0L300.4 299.5L304.6 306.8L303.5 317.3L300.4 325.6L252.3 325.6L248.2 317.3L247.1 308.9Z" fill="#FF3D3D"/>
<path d="M275.3 310.0L280.5 306.8L285.8 310.0L287.9 317.3L288.9 327.7L277.4 328.8L275.3 319.4Z" fill="#D8152F"/>
</g>
<g clip-path="url(#c11)">
<rect x="99" y="189" width="202" height="132" fill="#FFF1BC"/>
<path d="M130.0 190.0L178.3 190.0L181.5 196.5L187.5 201.7L190.1 208.3L191.9 216.1L193.5 223.9L191.4 231.8L186.2 235.7L178.3 231.8L173.1 226.5L165.3 221.3L154.8 216.1L144.4 213.0L133.9 210.9L124.8 212.2L126.1 205.7L127.4 197.8Z" fill="#BCF9FF"/>
<path d="M149.6 196.5L160.1 193.9L170.5 197.8L175.7 205.7L173.1 213.5L164.0 214.8L154.8 210.9L149.6 204.4Z" fill="#99EAFF"/>
<path d="M127.4 190.0L148.3 190.0L145.7 197.8L139.2 201.7L131.3 200.4L128.2 195.2Z" fill="#75D3FF"/>
<path d="M225.3 190.0L235.8 197.8L246.2 204.4L256.7 209.6L267.1 214.8L277.5 218.7L288.0 222.6L300.0 226.5L300.0 190.0Z" fill="#BCF9FF"/>
<path d="M235.8 190.0L246.2 196.5L256.7 201.7L269.7 207.0L282.8 212.2L300.0 217.4L300.0 190.0Z" fill="#99EAFF"/>
<path d="M248.8 190.0L261.9 195.2L277.5 200.4L293.2 205.7L300.0 208.3L300.0 190.0Z" fill="#75D3FF"/>
<path d="M267.1 190.0L282.8 193.9L300.0 199.1L300.0 190.0Z" fill="#56B0FF"/>
<path d="M120.9 218.7L128.7 216.1L139.2 216.1L149.6 218.7L158.7 222.6L165.3 229.2L168.4 237.0L167.9 246.1L166.6 252.7L152.2 249.5L139.2 244.3L128.7 239.1L122.2 231.8L119.6 223.9Z" fill="#FFD699"/>
<path d="M131.3 234.4L141.8 233.1L150.9 237.0L148.3 240.9L139.2 240.9L132.6 238.3Z" fill="#FFAC75"/>
<path d="M190.1 205.7L196.6 199.1L207.0 195.7L217.5 197.8L226.6 204.4L231.9 213.5L233.7 223.9L232.6 231.8L225.3 235.7L214.9 236.5L204.4 234.9L196.6 231.8L191.9 222.6L189.3 213.5Z" fill="#FFD699"/>
<path d="M199.2 223.9L207.0 221.8L216.2 222.6L221.4 225.2L220.1 229.7L212.3 231.2L203.1 230.5L198.7 227.9ZM204.4 210.9L212.3 208.8L216.2 213.5L213.6 218.2L206.5 218.2Z" fill="#FFAC75"/>
<path d="M168.4 252.1L175.7 246.1L183.6 241.7L191.4 240.9L200.5 242.2L207.0 246.1L211.0 252.7L213.1 248.7L220.1 246.9L230.5 246.1L243.6 246.1L256.7 247.4L270.0 248.7L282.8 251.3L300.0 254.0L300.0 320.0L100.0 320.0Z" fill="#FFD699"/>
<path d="M187.5 246.1L196.6 244.3L204.4 246.9L207.6 254.0L208.4 263.1L205.7 268.3L199.2 265.7L192.7 259.2L188.8 252.7ZM205.7 268.3L208.4 260.5L212.3 255.3L220.1 253.4L230.5 252.7L243.6 254.0L256.7 256.6L269.7 260.5L282.8 265.7L300.0 269.6L300.0 320.0L199.2 320.0Z" fill="#FFAC75"/>
<path d="M186.2 255.8L194.0 255.3L200.5 258.4L203.9 265.7L204.4 273.5L200.5 273.0L194.0 267.0L188.8 261.0ZM204.4 276.1L208.4 268.3L212.3 264.4L222.7 263.1L235.8 265.7L246.2 269.6L256.7 276.1L267.1 282.7L277.5 286.6L288.0 288.7L300.0 290.5L300.0 320.0L204.4 320.0Z" fill="#FF7856"/>
<path d="M246.2 299.6L256.7 295.7L269.7 294.4L282.8 294.4L300.0 293.1L300.0 320.0L246.2 320.0ZM211.0 280.1L218.8 278.8L222.7 285.3L221.4 293.1L216.2 294.4L212.3 287.9Z" fill="#FF3D3D"/>
<path d="M279.6 308.8L285.4 306.9L288.5 312.7L289.3 320.0L280.7 320.0Z" fill="#D8152F"/>
</g>
<g clip-path="url(#c12)">
<rect x="149" y="89" width="162" height="106" fill="#99EAFF"/>
<path d="M150.0 138.0L158.4 137.0L166.7 142.2L175.1 148.5L184.5 152.7L191.8 150.6L200.1 152.7L210.6 156.8L218.9 163.1L225.2 171.4L229.4 179.8L233.6 188.2L235.6 194.0L150.0 194.0Z" fill="#BCF9FF"/>
<path d="M152.4 169.4L159.6 167.3L168.8 167.3L176.5 169.4L181.7 173.3L185.1 177.1L192.2 176.5L197.4 175.8L205.4 180.4L213.1 184.4L221.0 187.5L228.7 192.7L231.9 194.0L185.1 194.0L183.0 191.5L179.0 186.9L174.0 184.4L166.1 182.9L159.6 179.8L154.4 174.6Z" fill="#FFF1BC"/>
<path d="M158.4 98.4L162.5 94.2L223.1 119.2L229.4 123.4L310.0 123.4L310.0 194.0L238.8 194.0L238.8 184.0L238.8 173.5L239.8 161.0L240.2 152.7L237.7 148.5L231.5 152.7L223.1 156.8L216.8 158.9L210.6 152.7L200.1 148.5L189.7 145.3L181.3 142.2L173.0 135.9L166.7 127.6L162.5 117.1L159.4 106.7ZM273.2 90.0L310.0 90.0L310.0 125.5L275.3 125.5Z" fill="#75D3FF"/>
<path d="M188.6 130.7L197.0 129.3L202.2 131.8L200.1 134.9L192.8 134.9L188.6 133.4Z" fill="#BCF9FF"/>
<path d="M300.4 129.7L310.0 125.5L310.0 167.3L302.5 165.2L297.3 152.7L296.2 140.1Z" fill="#99EAFF"/>
<path d="M228.3 124.5L254.4 125.1L258.6 130.7L263.8 134.9L271.1 131.8L283.7 130.7L292.0 140.1L294.1 148.5L292.0 158.9L294.1 169.4L299.3 177.7L298.7 194.0L255.5 194.0L253.4 181.9L250.3 169.4L246.5 156.8L243.0 146.4L238.8 138.0L232.5 130.7ZM273.2 90.0L310.0 90.0L310.0 110.9L300.4 113.0L294.1 119.2L285.8 129.7L279.5 127.6L275.3 125.5ZM162.5 95.2L175.1 94.2L185.5 96.3L191.8 102.5L202.2 106.7L210.6 110.9L218.9 117.1L222.1 121.3L212.7 121.3L204.3 119.2L196.0 117.1L187.6 115.1L179.2 110.9L170.9 105.7L164.6 100.4Z" fill="#56B0FF"/>
<path d="M260.7 155.8L269.1 153.7L279.5 154.7L283.7 158.9L282.6 164.1L275.3 166.2L265.9 165.2L260.7 162.0ZM184.5 97.3L191.8 99.4L200.1 102.5L207.4 107.8L208.5 113.0L202.2 114.0L194.9 111.9L188.6 107.8L184.5 102.5ZM275.3 179.8L283.7 175.6L294.1 174.6L296.2 181.9L292.0 188.2L294.1 194.0L275.3 194.0L273.2 186.1ZM296.2 90.0L310.0 90.0L310.0 104.6L304.6 108.8L298.3 102.5Z" fill="#3D87FF"/>
<path d="M188.6 101.5L194.9 102.5L202.2 104.6L206.8 108.4L206.4 111.9L200.1 111.9L193.9 109.8L189.7 106.3Z" fill="#181CF7"/>
</g>
<g clip-path="url(#c13)">
<rect x="259" y="199" width="202" height="132" fill="#BCF9FF"/>
<path d="M260.0 200.0L330.5 200.0L331.8 210.4L326.6 218.3L316.1 222.2L301.8 220.9L286.1 217.8L273.1 215.1L260.0 213.1Z" fill="#99EAFF"/>
<path d="M260.0 200.0L316.1 200.0L313.5 209.1L305.7 214.4L293.9 213.1L280.9 209.9L267.8 206.5L260.0 205.2Z" fill="#75D3FF"/>
<path d="M335.7 200.0L364.4 200.0L359.2 205.2L348.8 207.3L338.3 204.7ZM260.0 222.2L275.7 224.8L291.3 227.4L307.0 231.3L320.1 235.2L330.5 238.6L340.9 236.5L348.8 230.0L356.6 224.8L364.4 223.0L374.9 223.5L382.7 226.1L390.5 230.8L395.8 228.7L406.2 224.8L421.9 222.2L437.5 220.9L453.2 218.3L460.0 216.2L460.0 330.0L260.0 330.0Z" fill="#FFF1BC"/>
<path d="M260.0 233.4L280.9 235.2L299.2 239.2L317.4 244.4L333.1 245.7L346.2 241.8L356.6 236.5L364.4 233.4L374.9 232.6L385.3 235.2L395.8 239.2L411.4 241.8L429.7 243.1L448.0 241.8L460.0 239.2L460.0 330.0L260.0 330.0Z" fill="#FFD699"/>
<path d="M300.5 250.9L307.0 248.3L316.1 252.2L325.3 254.8L328.4 261.3L325.3 269.2L316.1 271.8L308.3 269.2L303.1 262.7L300.5 256.1ZM260.0 277.0L275.7 275.7L291.3 278.3L307.0 280.9L322.7 282.2L335.7 280.9L342.2 274.4L344.9 264.0L350.1 256.1L357.1 253.0L361.8 257.2L367.8 260.3L375.7 262.9L386.1 262.9L393.9 261.6L404.4 261.1L414.8 261.6L425.3 262.9L435.7 263.7L445.9 265.0L456.6 267.1L460.0 267.6L460.0 330.0L260.0 330.0Z" fill="#FFAC75"/>
<path d="M260.0 286.1L275.7 285.6L288.7 287.4L299.2 290.1L312.2 291.4L325.3 290.8L338.3 291.9L348.8 291.4L357.9 287.4L362.6 282.5L367.8 279.4L375.7 280.7L383.5 283.3L391.3 285.9L399.2 288.0L403.6 290.6L403.1 296.6L401.0 304.4L406.2 310.9L416.7 310.9L425.3 304.4L425.3 299.5L430.5 296.3L438.3 294.2L448.8 293.2L460.0 292.4L460.0 330.0L260.0 330.0Z" fill="#FF7856"/>
<path d="M305.7 304.4L314.8 300.5L327.9 300.5L337.0 304.4L339.6 312.2L335.7 320.1L325.3 323.2L314.8 322.2L307.0 316.2Z" fill="#FFAC75"/>
<path d="M321.4 303.9L331.0 303.1L333.1 310.9L328.4 315.4L322.1 313.6Z" fill="#FF7856"/>
<path d="M348.8 299.2L359.2 294.0L374.9 294.5L387.9 297.9L391.9 307.0L387.9 316.2L377.5 320.1L364.4 318.8L352.7 313.6L348.3 305.7Z" fill="#FFAC75"/>
<path d="M351.9 300.5L361.8 297.1L374.9 297.9L384.0 301.8L385.8 308.3L380.1 313.6L369.7 314.9L359.2 312.8L352.7 307.6ZM385.3 315.4L390.0 314.9L391.1 320.6L386.4 322.2Z" fill="#FFD699"/>
<path d="M260.0 297.1L273.1 296.1L288.7 291.4L299.2 291.9L303.9 297.9L304.4 309.6L301.8 322.7L299.2 330.0L260.0 330.0Z" fill="#FF3D3D"/>
<path d="M275.7 308.3L282.2 306.5L285.6 312.2L286.6 322.7L287.4 330.0L277.8 330.0L276.2 317.5Z" fill="#D8152F"/>
<path d="M440.2 317.5L448.0 312.8L460.0 310.9L460.0 330.0L438.9 330.0Z" fill="#FF3D3D"/>
</g>
<g clip-path="url(#c14)">
<rect x="309" y="89" width="152" height="106" fill="#BCF9FF"/>
<path d="M300.0 129.7L309.4 132.8L314.6 139.1L316.3 149.5L312.5 158.9L316.7 167.3L315.7 177.7L314.6 194.0L300.0 194.0Z" fill="#99EAFF"/>
<path d="M300.0 90.0L323.0 90.0L323.0 119.2L318.8 128.6L310.4 131.8L300.0 130.7ZM300.0 170.4L307.3 169.4L311.5 175.6L310.4 186.1L309.4 194.0L300.0 194.0Z" fill="#75D3FF"/>
<path d="M300.0 90.0L321.9 90.0L321.9 110.9L317.8 117.1L308.4 119.2L300.0 118.2Z" fill="#56B0FF"/>
<path d="M300.0 90.0L309.4 90.0L308.4 97.3L303.1 100.4L300.0 99.4Z" fill="#3D87FF"/>
<path d="M320.9 90.0L356.4 90.0L356.4 113.0L371.0 121.3L394.0 121.3L394.0 158.9L387.7 158.9L379.4 156.8L371.0 154.7L364.8 148.5L360.6 142.2L354.3 138.0L346.0 134.9L337.6 132.8L329.2 129.7L323.0 123.4L320.9 110.9Z" fill="#99EAFF"/>
<path d="M320.9 90.0L354.3 90.0L354.7 110.9L362.7 119.2L368.9 123.4L367.9 130.7L360.6 132.8L352.2 130.7L344.9 128.6L337.6 126.5L329.2 123.4L323.0 117.1L320.9 106.7Z" fill="#75D3FF"/>
<path d="M321.9 90.0L352.2 90.0L352.2 102.5L353.3 110.9L350.1 116.1L341.8 117.1L333.4 115.1L326.1 110.9L321.9 102.5Z" fill="#56B0FF"/>
<path d="M391.9 158.9L460.0 158.9L460.0 194.0L408.6 194.0L406.5 184.0L402.3 173.5L394.0 167.3Z" fill="#99EAFF"/>
<path d="M394.0 121.3L460.0 121.3L460.0 152.7L450.4 154.7L446.2 161.0L433.7 162.0L421.1 160.0L412.8 162.0L404.4 163.1L398.2 160.0L395.0 152.7L394.0 142.2ZM451.4 152.7L460.0 150.6L460.0 184.0L454.6 181.9L450.8 169.4Z" fill="#75D3FF"/>
<path d="M415.9 125.5L422.2 123.4L425.3 128.6L422.2 132.8L417.0 131.3ZM431.6 130.7L438.9 129.7L440.4 134.9L434.7 137.0L431.6 134.3Z" fill="#56B0FF"/>
<path d="M317.8 139.1L323.0 137.6L325.5 144.3L324.6 152.7L320.9 155.2L317.8 149.5ZM344.9 148.5L350.1 147.4L351.8 152.7L349.7 156.8L345.5 155.8ZM334.5 194.0L336.6 186.1L341.8 181.9L347.6 182.9L351.2 194.0Z" fill="#FFF1BC"/>
</g>
<g clip-path="url(#c15)">
<path d="M200.0 150.0L360.0 150.0L360.0 218.9L350.4 226.2L342.0 232.5L333.7 236.7L325.3 237.7L317.0 236.7L308.6 234.6L300.3 232.5L291.9 229.4L283.6 226.2L275.2 223.1L266.8 220.0L258.5 216.8L250.1 212.7L241.8 207.4L233.4 199.1L225.1 191.8L216.7 186.5L208.4 181.3L200.0 177.1Z" fill="#BCF9FF"/>
<path d="M204.2 150.0L325.3 150.0L325.3 162.5L319.1 175.1L317.0 187.6L318.0 200.1L321.1 210.6L317.0 218.9L308.6 221.0L298.2 220.0L287.7 216.8L277.3 213.7L266.8 210.6L256.4 207.4L248.0 203.3L241.8 198.0L235.5 190.7L229.2 181.3L220.9 170.9L212.5 160.4Z" fill="#99EAFF"/>
<path d="M220.9 150.0L312.8 150.0L313.8 160.4L311.7 170.9L310.7 181.3L311.7 191.8L312.8 202.2L309.7 212.7L302.3 214.7L291.9 212.7L283.6 209.5L275.2 206.4L266.8 204.3L258.5 202.2L250.1 199.1L243.9 193.9L239.7 187.6L236.6 179.2L232.4 170.9L226.1 160.4Z" fill="#75D3FF"/>
<path d="M239.7 150.0L291.9 150.0L291.9 162.5L289.8 170.9L293.0 179.2L291.9 187.6L287.7 191.8L279.4 194.9L271.0 198.0L262.7 200.1L256.4 198.0L258.5 191.8L262.7 185.5L260.6 179.2L256.4 173.0L250.1 166.7L243.9 158.4Z" fill="#56B0FF"/>
<path d="M260.6 156.3L268.9 153.8L279.4 154.6L284.0 159.4L282.5 164.6L273.1 166.7L263.7 165.0L260.2 160.4Z" fill="#3D87FF"/>
<path d="M334.7 191.8L337.9 183.4L346.2 178.2L354.6 179.2L360.0 185.5L360.0 204.3L352.5 206.4L344.1 205.3L336.8 200.1ZM318.0 150.0L325.3 150.0L324.9 154.6L320.1 155.2ZM344.1 150.0L351.4 150.0L350.8 155.8L345.8 156.3Z" fill="#FFF1BC"/>
</g>
<g clip-path="url(#c16)">
<rect x="199" y="271" width="202" height="110" fill="#FFAC75"/>
<path d="M224.8 250.0L233.9 257.8L247.0 264.4L260.1 268.3L275.7 269.6L291.4 273.5L304.4 276.1L317.5 274.8L327.9 269.6L335.8 263.1L342.3 256.5L346.2 250.0Z" fill="#FFD699"/>
<path d="M243.1 250.0L270.5 250.0L270.0 259.1L260.1 263.1L248.3 260.4Z" fill="#FFF1BC"/>
<path d="M377.5 250.0L400.0 250.0L400.0 260.4L390.6 263.1L382.8 259.1Z" fill="#FFD699"/>
<path d="M200.0 261.7L210.4 263.1L220.9 265.7L223.5 270.9L233.9 274.8L244.4 281.3L252.2 286.5L262.7 286.5L275.7 285.2L288.8 286.5L304.4 289.2L314.9 291.8L325.3 290.5L335.8 287.9L346.2 289.2L356.7 291.8L364.5 286.5L372.3 278.7L382.8 274.8L393.2 276.1L400.0 278.7L400.0 380.0L200.0 380.0Z" fill="#FF7856"/>
<path d="M305.7 302.2L314.9 298.3L325.3 299.6L335.8 298.3L339.7 304.8L338.4 315.3L330.5 320.5L320.1 323.1L309.7 320.5L305.0 312.7Z" fill="#FFAC75"/>
<path d="M322.2 302.2L333.2 300.9L335.8 308.7L331.9 315.3L323.2 314.0Z" fill="#FF7856"/>
<path d="M347.5 299.6L356.7 293.1L369.7 290.5L382.8 291.8L393.2 298.3L395.8 310.0L391.9 320.5L382.8 324.4L369.7 320.5L356.7 315.3L348.8 308.7Z" fill="#FFAC75"/>
<path d="M352.7 300.9L361.9 295.7L374.9 294.9L386.7 298.3L391.9 306.1L389.3 314.0L380.2 315.3L369.7 312.7L359.3 309.5L353.5 305.3Z" fill="#FFD699"/>
<path d="M384.3 315.8L390.1 315.3L391.1 321.0L385.4 322.0Z" fill="#FFF1BC"/>
<path d="M248.3 300.9L254.8 297.0L267.9 294.9L283.6 294.4L290.1 297.0L299.2 298.3L304.4 302.2L305.7 312.7L304.4 323.1L300.5 328.3L288.8 329.6L252.2 325.7L248.3 312.7ZM210.4 280.0L218.3 282.6L222.2 291.8L220.9 302.2L217.0 308.7L213.1 297.0ZM341.0 333.0L350.1 334.1L351.4 344.0L344.9 345.3L340.5 338.8ZM393.2 352.3L400.0 351.3L400.0 362.8L393.7 362.2Z" fill="#FF3D3D"/>
<path d="M275.7 310.0L280.9 306.9L287.5 308.7L289.3 317.9L290.1 328.8L277.0 328.3L275.2 317.9Z" fill="#D8152F"/>
<path d="M259.5 320.0L270.5 318.4L275.7 321.0L271.8 324.4L261.4 324.1Z" fill="#FF7856"/>
</g>
<g clip-path="url(#c17)">
<path d="M384.0 100.0L640.0 100.0L640.0 266.0L570.7 266.0L557.3 255.0L550.7 245.0L537.3 236.7L524.0 230.0L510.7 225.0L497.3 221.7L484.0 220.0L470.7 218.3L460.7 220.0L444.0 221.7L424.0 223.3L404.0 225.0L384.0 223.3Z" fill="#BCF9FF"/>
<path d="M384.0 120.0L540.7 120.0L544.0 140.0L547.3 160.0L544.0 180.0L540.7 200.0L530.7 213.3L517.3 216.7L497.3 215.0L477.3 213.3L457.3 211.7L437.3 208.3L417.3 203.3L400.7 198.3L390.7 200.0L384.0 200.0ZM537.3 113.3L617.3 113.3L614.0 140.0L607.3 166.7L584.0 168.3L570.7 166.7L544.0 166.7ZM540.7 163.3L584.0 166.7L583.3 171.7L579.0 181.7L581.3 193.3L564.0 190.0L544.0 187.3L540.7 180.0ZM527.3 188.3L544.0 185.0L564.0 187.3L580.7 191.7L585.7 203.3L580.7 213.3L564.0 215.0L547.3 212.7L532.3 206.7L526.7 196.7Z" fill="#99EAFF"/>
<path d="M548.0 126.7L560.7 122.7L570.0 130.0L570.7 146.7L565.7 161.7L552.3 163.3L547.3 150.0ZM390.7 168.3L404.0 165.0L415.7 171.7L417.3 185.0L412.3 196.7L399.0 200.0L390.7 193.3Z" fill="#BCF9FF"/>
<path d="M392.3 120.0L404.0 116.7L434.0 118.3L450.7 130.0L464.0 141.7L494.0 146.7L499.0 150.0L517.3 156.7L521.3 165.0L510.7 171.7L494.0 173.3L484.0 171.7L480.7 183.3L470.7 188.3L457.3 185.0L450.7 175.0L449.0 165.0L437.3 166.7L420.7 163.3L407.3 160.0L397.3 153.3L392.3 140.0ZM503.3 191.7L512.3 189.3L520.0 193.3L519.0 200.0L510.0 201.7L503.3 198.3ZM597.3 116.7L614.0 115.0L614.0 131.7L604.0 133.3L597.3 126.7Z" fill="#75D3FF"/>
<path d="M415.7 124.0L424.7 122.7L426.7 131.7L419.0 134.0ZM430.7 130.7L439.0 129.3L440.0 136.0L432.3 137.3ZM453.3 155.0L464.0 151.7L473.3 156.7L475.7 166.7L471.3 176.0L460.7 178.3L453.3 171.7L451.7 163.3Z" fill="#56B0FF"/>
<path d="M601.3 220.7L614.0 218.3L619.0 223.3L617.3 231.7L612.3 232.7L609.0 226.7L602.3 225.0Z" fill="#FFF1BC"/>
</g>
<path d="M402.6 354.4L418.9 354.4L418.9 347.9L433.9 347.9L433.9 339.8L452.2 339.8L453.8 340.9L449.6 343.6L443.1 345.5L436.6 347.6L430.0 350.9L423.5 354.8L417.0 358.0L410.4 361.3L405.2 363.9L402.6 367.2L400.0 365.5L400.0 362.9L402.6 362.2ZM497.1 337.4L497.1 330.8L512.8 330.8L512.8 321.8L522.2 321.8L522.2 309.2L531.6 309.2L531.6 307.6L537.9 305.1L533.7 308.2L528.5 311.3L525.3 314.9L522.2 319.1L519.1 323.2L515.9 327.4L512.8 330.5L507.6 333.1L502.3 335.1ZM260.0 326.4L288.2 326.4L288.2 334.7L278.8 333.3L266.3 330.5L260.0 329.1ZM320.0 331.7L338.9 331.7L338.9 337.6L344.2 337.6L344.2 346.1L351.3 346.1L351.3 347.4L365.7 347.4L365.7 353.3L397.0 353.3L397.0 361.8L402.9 361.8L402.9 353.9L420.0 353.9L420.0 355.2L414.0 358.9L407.5 362.8L402.2 367.4L399.6 365.4L391.8 364.8L391.1 358.3L382.7 359.6L374.8 360.2L367.0 358.3L359.2 353.7L353.9 350.4L347.4 349.8L340.9 347.2L335.7 340.0L327.8 337.4L320.0 334.8ZM185.1 249.8L190.7 249.8L190.7 260.3L197.0 260.3L197.0 268.6L205.4 268.6L205.4 274.9L208.5 274.9L206.8 278.5L202.2 277.6L198.0 275.5L193.9 271.8L189.7 267.6L185.5 263.0L181.3 259.2ZM209.1 286.4L212.7 286.4L212.7 296.8L218.9 296.8L218.9 309.4L223.5 309.4L223.5 319.8L250.3 319.8L250.3 325.7L241.9 324.0L229.4 323.6L223.5 323.6L223.1 318.8L220.0 314.6L216.8 310.4L214.3 305.2L212.7 298.9L211.6 292.7ZM215.0 112.7L219.2 115.2L224.4 117.3L229.6 117.9L234.8 116.4L240.1 118.5L246.3 120.6L251.6 122.1L256.8 124.2L259.9 126.2L264.1 124.8L267.2 122.1L272.4 121.0L276.6 117.9L280.2 113.7L281.8 109.5L285.0 109.5L285.0 122.1L277.7 122.1L277.7 126.9L269.7 126.9L269.7 131.0L257.8 131.0L257.8 126.9L242.2 126.9L242.2 122.7L227.5 122.7L227.5 117.9L215.0 117.9ZM276.6 88.6L278.7 83.4L281.8 78.2L286.0 73.4L288.1 73.4L288.1 79.2L285.0 79.2L285.0 91.8L283.9 91.8L283.9 109.5L281.8 109.5L280.8 105.4L277.7 102.2L276.6 98.0L275.6 93.9ZM438.0 121.2L452.7 128.5L458.9 135.8L463.1 141.0L469.4 144.1L481.9 145.2L481.9 150.0L463.1 150.0L463.1 143.7L452.7 143.7L452.7 133.3L440.1 133.3L440.1 128.1L431.8 128.1L431.8 119.7ZM610.6 177.8L618.9 172.5L625.2 170.4L632.5 173.0L637.7 175.7L641.9 172.5L641.9 180.9L637.7 180.9L632.5 180.9L632.5 176.7L621.0 176.7L612.7 179.8ZM658.6 163.1L667.0 167.3L675.3 173.6L683.7 181.9L688.9 188.2L683.7 188.2L683.7 183.0L675.3 183.0L675.3 174.6L663.8 174.6L663.8 167.3L658.6 167.3ZM583.4 112.4L591.8 116.6L599.1 116.6L599.1 121.2L585.5 121.2L585.5 116.6L581.3 115.5ZM607.4 112.4L614.8 113.4L615.2 120.8L608.5 120.8L608.5 117.0L605.4 116.6Z" fill="#fff"/>
</g>
<g clip-path="url(#mn)"><path d="M132.2 101.4L133.5 108.7L138.7 116.6L144.0 124.4L146.6 132.2L147.9 138.7L149.2 141.4M149.2 141.4L142.7 142.1L136.1 142.7L134.3 145.3L134.8 153.1L136.1 163.6L138.0 174.0L140.1 184.4L142.7 194.9L145.3 201.4L138.7 200.1L133.0 198.8M149.2 141.4L154.4 138.7L157.5 136.1L159.6 141.4L163.6 145.3L170.1 146.6L175.3 150.5L179.2 149.2L183.1 153.1L184.4 157.0M184.4 157.0L189.7 151.8L194.9 149.2L202.7 148.4L210.5 150.5L215.8 151.8L222.3 148.4L226.2 142.7L228.8 136.1L230.1 129.6L228.8 124.4L227.5 119.2M184.4 157.0L181.8 163.6L180.5 170.1L184.4 176.6M184.4 176.6L185.7 184.4L189.7 192.3L193.6 200.1L194.9 210.0M184.4 176.6L192.3 175.3L200.1 177.9L207.9 180.5L215.8 184.4L222.3 189.7L227.5 194.9L232.7 201.4L236.7 207.9L239.3 210.0M251.7 129.2L255.7 137.0L262.2 143.5L268.7 148.7L276.6 151.4L284.4 148.7L290.9 147.4L293.5 152.7L292.2 160.5L293.5 167.0L304.0 168.3L310.5 165.7L315.7 159.2L319.6 152.7L323.6 148.7L326.2 151.4L331.4 154.0L339.2 155.3M293.5 167.0L290.9 172.2L279.2 174.9L272.6 180.1L273.4 187.9L281.8 190.5L289.6 189.2L294.8 191.8L301.4 190.5L304.0 197.0L305.3 204.9L309.2 210.1L315.7 212.7L318.3 220.0M273.4 187.9L267.4 197.0L262.2 204.9L258.3 212.7L255.7 220.0M354.9 118.7L352.3 123.9L349.7 127.9L356.2 133.1L360.1 137.0L354.9 140.9L349.7 143.5L344.4 146.1L340.5 151.4L339.2 155.3L343.1 156.6L347.0 160.5L349.7 167.0L354.9 173.6L361.4 178.8L365.3 185.3L370.5 190.5L375.8 194.4L381.0 198.4L384.9 202.3L386.2 210.1L388.8 220.0M394.0 121.3L395.4 131.8L398.0 139.6L394.0 146.1L390.1 151.4L384.9 152.7L386.2 156.6L391.4 157.9L394.0 164.4L396.7 167.0L404.5 167.0L412.3 163.1L420.2 159.2L428.0 164.4L433.2 167.0L440.0 165.7M396.7 167.0L394.0 173.6L390.1 181.4L392.7 187.9L396.7 193.1L390.1 197.0L382.3 198.4M418.9 135.7L422.8 129.2L425.4 133.1L431.9 138.3L434.5 144.8L428.0 148.7L420.2 151.4L418.9 142.2L418.9 135.7M420.0 158.7L427.8 162.7L435.7 165.3L443.5 164.0L450.0 160.1L451.3 153.5L459.2 151.7L468.3 149.6M468.3 147.0L473.5 154.8L476.1 164.0L476.1 173.1L472.2 180.9L468.3 187.5L468.3 196.6L470.9 204.4L476.1 209.7L478.7 214.9L482.7 218.8L481.4 225.3L482.7 230.0M429.1 177.0L438.3 176.2L446.1 179.6L451.3 183.6L450.8 190.1L444.8 192.7L437.0 191.4L431.7 190.1L430.4 183.6L429.1 177.0M447.4 199.2L450.8 199.7L451.3 203.1L448.2 203.4L447.4 199.2M534.9 139.2L538.8 149.6L542.7 160.1L546.6 170.5L549.2 180.9L550.5 184.9M456.6 230.0L459.2 222.7L463.1 218.8L469.6 217.5L476.1 216.2L482.7 218.8M500.9 230.0L502.2 221.4L504.9 220.1L507.5 225.3L511.4 230.0M545.7 170.0L548.3 176.5L549.6 183.1L543.1 185.7L539.2 189.6L537.9 196.1L531.3 201.3L527.4 209.2L524.8 218.3L526.1 226.1L522.2 231.4L518.3 234.0L510.4 228.7L503.9 222.2L500.0 220.9M549.6 183.1L557.4 187.0L567.9 188.3L578.3 189.6L583.6 196.1L587.5 203.9L592.7 209.2L597.9 213.1L607.0 211.8L614.9 209.2L621.4 207.9L625.3 213.1L627.9 218.3M526.1 226.1L532.6 232.7L536.6 239.2L537.9 247.0L541.8 253.6L543.1 258.8M192.7 190.0L193.5 197.8L191.4 204.4L183.6 207.0L178.3 209.6L177.0 216.1L173.1 223.9L168.4 230.5L166.6 238.3L166.6 246.1L167.4 251.4M225.3 190.0L229.2 196.5L233.2 204.4L241.0 208.3L246.2 213.5L251.4 218.7L256.7 223.9L264.5 231.8L269.7 239.6L272.3 246.1L271.0 255.3L267.1 263.1L263.2 270.9L260.6 281.4L258.0 291.8L255.4 302.3L254.0 310.1L253.5 320.0M303.1 200.0L305.7 205.2L312.2 206.5L316.1 211.7L322.7 214.4L330.5 215.7L334.4 223.5L333.1 231.3L330.0 239.2L328.4 247.0L325.3 256.1L325.3 264.0L329.2 269.2L333.1 275.7L334.4 283.6L335.7 292.7M330.5 215.7L340.9 213.1L350.1 211.7L354.0 207.8L357.9 202.6L360.5 200.0M335.7 292.7L327.9 295.3L320.1 297.9L312.2 300.5L304.4 299.2L299.2 294.0L295.2 290.1L288.7 290.1L288.7 304.4L289.2 317.5L289.2 330.0M335.7 292.7L343.6 291.9L351.4 291.4L359.2 290.1L363.1 283.6L367.0 277.0L372.3 270.5L378.8 264.8M378.8 264.8L377.0 258.7L375.4 252.2L377.5 248.3L384.0 247.0L386.6 241.8L389.2 236.6L395.2 233.9L398.4 228.7L402.3 224.8L408.8 223.5L416.7 224.8L424.5 223.5L432.3 224.8L442.8 226.1L450.6 222.2L460.0 218.3M395.2 233.9L394.5 228.7L390.5 222.2L389.2 215.7L387.9 207.8L382.7 200.0M378.8 264.8L385.3 267.9L387.9 273.1L395.8 277.0L406.2 278.3L414.0 279.6L419.3 286.2L424.5 291.4L432.3 288.8L442.8 284.9L450.6 283.6L457.1 280.9L460.0 275.7M466.2 230.0L464.9 237.8L470.1 243.1L472.7 250.9L472.7 260.0L471.4 267.9L463.6 270.5L458.3 273.1M458.3 273.1L455.7 280.9L447.9 283.5L440.1 286.1L432.2 290.1L424.4 292.7L419.2 288.7L415.2 282.2L411.3 277.0L403.5 273.1L395.7 269.2L387.8 265.2L383.9 261.3L380.0 262.6M458.3 273.1L457.0 282.2L459.6 292.7L462.2 303.1L464.9 313.6L466.2 324.0L466.7 334.4L466.2 339.7" fill="none" stroke="#333" stroke-opacity="0.8" stroke-width="0.65" stroke-linejoin="round"/></g><path d="M377.6 81.4L392.6 77.1L406.3 74.5L412.2 66.7L420.7 55.6L430.5 47.7L434.7 41.2M377.6 81.4L392.6 88.5L405.7 83.7L418.1 79.1L421.1 73.9L424.0 64.7L437.0 55.6L451.4 49.7L459.0 41.2" fill="none" stroke="#666" stroke-width="0.7"/>
<path d="M324.0 75.5C323.8 76.8 323.1 80.0 322.6 83.4C322.2 86.8 321.5 91.5 321.3 96.0C321.1 100.5 321.0 106.1 321.3 110.6C321.6 115.1 322.5 118.6 323.2 123.1C323.9 127.6 324.7 133.2 325.7 137.7C326.7 142.2 327.9 146.8 329.0 150.0C330.1 153.2 330.4 152.8 332.3 156.7C334.2 160.6 337.6 167.8 340.7 173.4C343.8 179.0 347.3 184.9 351.1 190.1C354.9 195.3 359.5 200.2 363.7 204.7C367.9 209.2 371.8 213.1 376.2 217.3C380.6 221.5 385.6 226.3 390.0 229.8C394.4 233.3 398.3 235.7 402.5 238.3C406.7 240.9 410.8 243.2 415.0 245.6C419.2 248.0 423.4 250.7 427.6 253.0C431.8 255.3 436.2 257.4 440.0 259.2C443.8 261.0 446.4 262.3 450.6 264.0C454.8 265.7 460.7 267.8 465.2 269.6C469.7 271.4 473.5 272.9 477.7 274.8C481.9 276.7 486.1 278.8 490.3 280.9C494.5 283.0 498.6 285.0 502.8 287.3C507.0 289.6 511.5 292.1 515.3 294.5C519.1 296.9 522.8 299.5 525.8 301.6C528.8 303.7 532.2 306.4 533.5 307.3" fill="none" stroke="#000" stroke-width="1.7"/>
<path d="M124.7 176.1L123.3 169.8L120.1 164.6L117.0 160.4L111.8 158.3L108.6 154.8L103.4 153.5L99.2 150.0L94.7 145.8L93.0 140.6L88.8 136.0L86.3 131.2L84.6 127.0L86.3 122.8L85.0 118.6L87.8 115.5L91.9 111.3L96.7 109.2L101.3 110.9L106.5 111.3L110.7 109.2L114.3 108.2L119.1 107.6L122.2 106.1L124.7 102.6L129.5 100.9L133.7 99.2L140.0 96.7L145.2 95.7L149.4 93.6L154.6 92.5L158.8 89.8L162.9 89.4L166.5 87.3L170.3 86.3L174.4 86.3L176.1 83.8L178.6 85.2L183.8 86.3L187.0 89.4L190.1 93.6L195.3 94.2L201.6 95.7L206.8 97.8L208.3 101.9L209.5 106.1L212.0 111.3L215.0 112.7L219.2 115.2L224.4 117.3L229.6 117.9L234.8 116.4L240.1 118.5L246.3 120.6L251.6 122.1L256.8 124.2L259.9 126.2L264.1 124.8L267.2 122.1L272.4 121.0L276.6 117.9L280.2 113.7L281.8 109.5L280.8 105.3L277.7 102.2L276.6 98.0L275.6 93.9L276.6 88.6L278.7 83.4L281.8 78.2L286.0 73.4L290.6 69.8L294.0 66.7L295.4 62.1L297.5 63.0L300.6 65.7L304.8 67.8L310.0 69.8L313.2 73.4L318.4 74.7L324.7 75.5L328.8 78.2L334.1 81.3L340.3 83.0L345.6 85.1L349.7 87.6L351.8 91.8L351.8 97.0L353.3 102.2L354.5 107.4L358.1 111.6L362.3 115.8L365.2 117.0L370.4 119.7L375.7 121.2L380.9 121.2L386.1 120.5L391.3 118.0L397.6 116.4L403.9 114.9L409.1 113.5L414.3 114.3L420.6 114.9L425.8 117.0L432.1 117.6L437.3 120.1L441.5 124.7L446.7 126.4L452.9 126.8L456.5 128.5L457.1 133.7L459.8 137.9L464.0 141.4L468.6 143.5L474.9 144.2L481.1 143.5L487.4 145.2L493.7 146.2L499.9 146.2L504.2 144.7L509.4 146.4L514.6 143.9L519.8 140.6L525.1 139.7L530.3 137.6L535.5 135.5L541.8 133.4L547.0 132.8L551.2 128.6L554.3 123.4L559.5 119.2L563.7 115.1L567.9 111.9L572.1 109.8L578.3 109.2L583.5 110.9L587.7 113.4L591.9 115.5L597.1 116.1L601.3 114.0L605.5 111.5L610.7 111.9L615.9 114.7L614.9 120.3L612.8 127.6L610.7 134.9L608.6 142.2L606.5 149.5L604.4 156.8L604.0 163.1L601.9 166.9L603.4 171.5L606.5 174.6L610.7 177.7L614.9 173.6L620.1 171.0L625.3 169.8L630.5 170.4L634.7 173.1L638.9 174.6L642.0 170.4L645.2 165.2L649.4 162.7L653.1 161.3L658.3 163.0L662.5 166.1L667.7 168.2L673.0 171.3L677.1 175.5L682.4 179.7L686.5 183.9L689.7 188.5L691.8 192.6L690.3 195.3L685.5 196.8L680.3 198.1L675.0 196.8L670.9 194.7L665.6 197.4L660.4 198.5L655.2 201.6L651.0 204.8L646.8 205.8L643.7 208.5L642.2 212.1L637.4 213.1L632.2 214.8L630.4 216.3L627.3 221.5L624.5 226.7L624.1 231.9L620.4 236.1L615.8 239.7L610.5 243.0L605.3 244.5L600.1 245.5L594.9 246.6L591.8 250.7L588.6 254.9L584.4 259.1L580.3 263.3L576.1 266.4L569.8 266.0L563.5 265.4L558.3 264.3L554.1 261.2L550.0 260.1L544.8 260.6L540.6 261.2L538.1 265.4L536.4 270.6L535.4 276.8L532.6 282.1L534.7 287.3L539.5 291.5L543.7 294.6L545.2 298.8L545.2 298.8L542.0 301.9L536.8 305.1L532.6 307.6L528.5 310.9L525.3 314.5L522.2 318.6L519.1 322.8L515.9 327.0L512.8 330.1L507.6 332.6L502.4 334.7L497.1 337.4L491.9 339.5L485.6 340.6L479.4 340.6L473.1 341.0L466.8 341.6L460.6 341.6L454.3 342.2L449.1 344.3L442.8 346.4L436.6 348.9L430.3 352.1L424.0 354.8L415.6 359.0L410.4 361.9L406.2 364.0L402.4 366.7L399.9 364.6L393.7 364.0L392.6 359.0L387.4 359.4L381.1 359.8L374.9 359.0L368.6 356.9L363.4 354.1L358.2 352.1L352.9 350.0L347.7 348.9L342.5 346.8L338.3 342.7L333.1 339.5L326.8 337.4L321.6 335.4L315.4 333.3L309.1 332.2L302.8 332.6L296.6 333.3L291.3 333.9L285.1 334.7L278.8 333.3L272.5 331.8L267.0 328.6L260.7 327.1L254.4 326.5L248.2 325.0L241.9 324.0L235.6 323.6L229.4 323.6L223.5 323.6L223.1 318.8L220.0 314.6L216.8 310.4L214.3 305.2L212.7 298.9L211.6 292.7L209.5 287.4L206.0 284.3L206.8 278.5L202.2 277.6L198.0 275.5L193.9 271.8L189.7 267.6L185.5 263.0L181.3 259.2L174.2 255.0L170.0 251.9L164.8 250.2L158.5 249.4L151.2 249.4L144.9 247.7L138.6 245.6L132.4 243.6L127.2 240.4L121.9 237.3L119.2 232.1L119.8 225.8L123.4 220.6L128.2 215.3L127.2 210.1L128.2 203.9L131.3 197.6L130.3 190.3Z" fill="none" stroke="#000" stroke-width="2.3" stroke-linejoin="miter" stroke-miterlimit="3"/>
</g>
<rect x="61.5" y="41.5" width="645" height="341.5" fill="none" stroke="#4a4a4a" stroke-width="1.3"/>
<path d="M141.75 41.5V29.5M229.75 41.5V29.5M316.25 41.5V29.5M402.25 41.5V29.5M488.25 41.5V29.5M574.75 41.5V29.5M663 41.5V29.5M76.7 383V394M186.25 383V394M295 383V394M401.7 383V394M510.4 383V394M618.3 383V394M61.5 85H49.5M61.5 144.2H49.5M61.5 203H49.5M61.5 261.6H49.5M61.5 320H49.5M61.5 378.6H49.5M706.5 93.6H718.7M706.5 151.9H718.7M706.5 210.5H718.7M706.5 268.6H718.7M706.5 327H718.7" fill="none" stroke="#4a4a4a" stroke-width="1.2"/>
<text class="tk" x="141.75" y="21.2" text-anchor="middle">90°E</text>
<text class="tk" x="229.75" y="21.2" text-anchor="middle">95°E</text>
<text class="tk" x="316.25" y="21.2" text-anchor="middle">100°E</text>
<text class="tk" x="402.25" y="21.2" text-anchor="middle">105°E</text>
<text class="tk" x="488.25" y="21.2" text-anchor="middle">110°E</text>
<text class="tk" x="574.75" y="21.2" text-anchor="middle">115°E</text>
<text class="tk" x="663" y="21.2" text-anchor="middle">120°E</text>
<text class="tk" x="76.7" y="412.7" text-anchor="middle">90°E</text>
<text class="tk" x="186.25" y="412.7" text-anchor="middle">95°E</text>
<text class="tk" x="295" y="412.7" text-anchor="middle">100°E</text>
<text class="tk" x="401.7" y="412.7" text-anchor="middle">105°E</text>
<text class="tk" x="510.4" y="412.7" text-anchor="middle">110°E</text>
<text class="tk" x="618.3" y="412.7" text-anchor="middle">115°E</text>
<text class="tk" x="41.6" y="89.7" text-anchor="end">50°N</text>
<text class="tk" x="41.6" y="148.9" text-anchor="end">48°N</text>
<text class="tk" x="41.6" y="207.7" text-anchor="end">46°N</text>
<text class="tk" x="41.6" y="266.3" text-anchor="end">44°N</text>
<text class="tk" x="41.6" y="324.7" text-anchor="end">42°N</text>
<text class="tk" x="41.6" y="383.3" text-anchor="end">40°N</text>
<text class="tk" x="726.5" y="98.3" text-anchor="start">50°N</text>
<text class="tk" x="726.5" y="156.6" text-anchor="start">48°N</text>
<text class="tk" x="726.5" y="215.2" text-anchor="start">46°N</text>
<text class="tk" x="726.5" y="273.3" text-anchor="start">44°N</text>
<text class="tk" x="726.5" y="331.7" text-anchor="start">42°N</text>
<rect x="66.25" y="438.5" width="45.7" height="30.7" fill="#2400D8"/>
<rect x="111.65" y="438.5" width="45.7" height="30.7" fill="#181CF7"/>
<rect x="157.05" y="438.5" width="45.7" height="30.7" fill="#3D87FF"/>
<rect x="202.45" y="438.5" width="45.7" height="30.7" fill="#56B0FF"/>
<rect x="247.85" y="438.5" width="45.7" height="30.7" fill="#75D3FF"/>
<rect x="293.25" y="438.5" width="45.7" height="30.7" fill="#99EAFF"/>
<rect x="338.65" y="438.5" width="45.7" height="30.7" fill="#BCF9FF"/>
<rect x="384.05" y="438.5" width="45.7" height="30.7" fill="#FFF1BC"/>
<rect x="429.45" y="438.5" width="45.7" height="30.7" fill="#FFD699"/>
<rect x="474.85" y="438.5" width="45.7" height="30.7" fill="#FFAC75"/>
<rect x="520.25" y="438.5" width="45.7" height="30.7" fill="#FF7856"/>
<rect x="565.65" y="438.5" width="45.7" height="30.7" fill="#FF3D3D"/>
<rect x="611.05" y="438.5" width="45.7" height="30.7" fill="#D8152F"/>
<rect x="656.45" y="438.5" width="45.7" height="30.7" fill="#A50021"/>
<path d="M111.65 438.5V469.2M157.05 438.5V469.2M202.45 438.5V469.2M247.85 438.5V469.2M293.25 438.5V469.2M338.65 438.5V469.2M384.05 438.5V469.2M429.45 438.5V469.2M474.85 438.5V469.2M520.25 438.5V469.2M565.65 438.5V469.2M611.05 438.5V469.2M656.45 438.5V469.2" fill="none" stroke="#222" stroke-opacity="0.55" stroke-width="0.8"/>
<text class="cb" x="111.65" y="488.6" text-anchor="middle">-30</text>
<text class="cb" x="157.05" y="488.6" text-anchor="middle">-28</text>
<text class="cb" x="202.45" y="488.6" text-anchor="middle">-26</text>
<text class="cb" x="247.85" y="488.6" text-anchor="middle">-24</text>
<text class="cb" x="293.25" y="488.6" text-anchor="middle">-22</text>
<text class="cb" x="338.65" y="488.6" text-anchor="middle">-20</text>
<text class="cb" x="384.05" y="488.6" text-anchor="middle">-18</text>
<text class="cb" x="429.45" y="488.6" text-anchor="middle">-16</text>
<text class="cb" x="474.85" y="488.6" text-anchor="middle">-14</text>
<text class="cb" x="520.25" y="488.6" text-anchor="middle">-12</text>
<text class="cb" x="565.65" y="488.6" text-anchor="middle">-10</text>
<text class="cb" x="611.05" y="488.6" text-anchor="middle">-8</text>
<text class="cb" x="656.45" y="488.6" text-anchor="middle">-6</text>
<text x="265" y="249.2" text-anchor="middle" style="font-size:51.5px;fill:#000;stroke:#000;stroke-width:0.4px">H</text>
<text x="477.7" y="211.9" text-anchor="middle" style="font-size:51.5px;fill:#3B2BC3">X</text>
</svg></body></html>
